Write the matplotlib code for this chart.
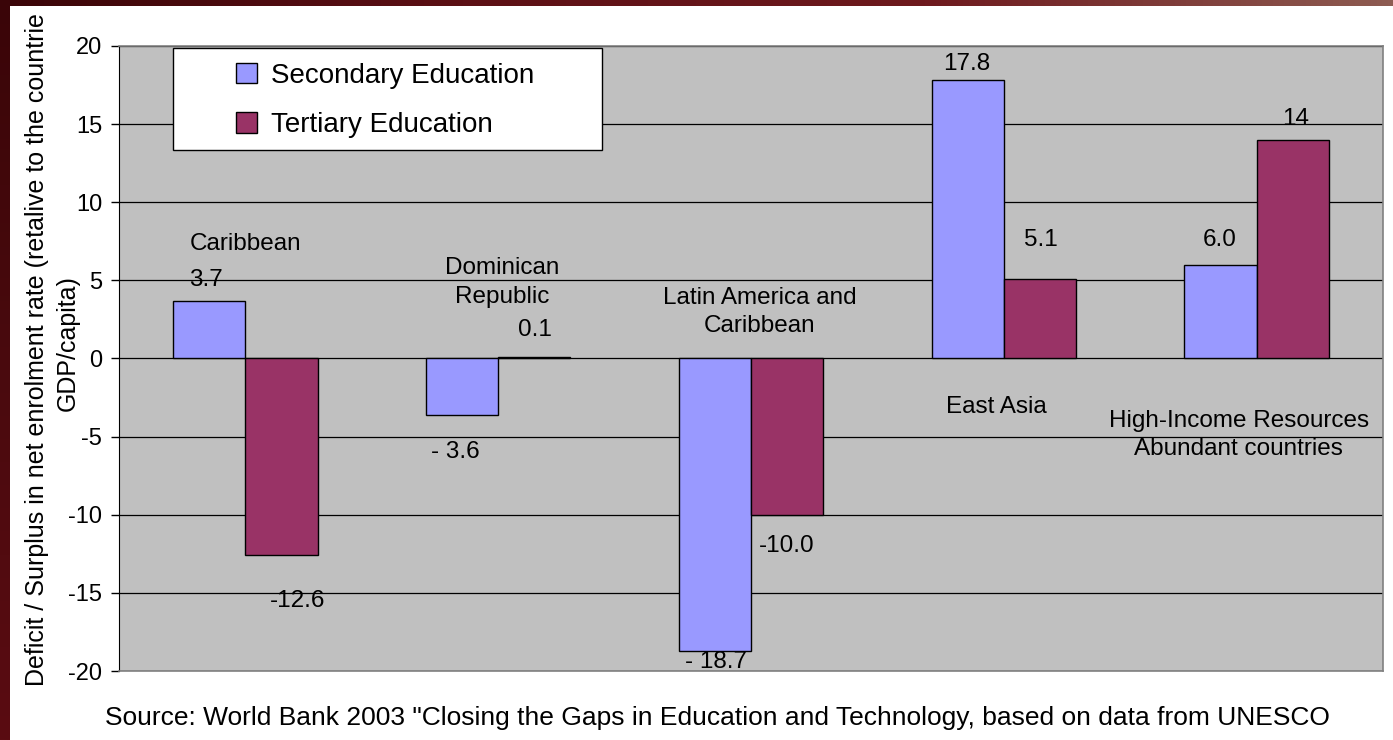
import matplotlib
matplotlib.use("Agg")
import matplotlib.pyplot as plt
import numpy as np
from matplotlib.patches import Rectangle
from matplotlib.colors import LinearSegmentedColormap

plt.rcParams['font.family'] = ['Liberation Sans', 'DejaVu Sans']

regions = ["Caribbean", "Dominican\nRepublic", "Latin America and\nCaribbean",
           "East Asia", "High-Income Resources\nAbundant countries"]
secondary = [3.7, -3.6, -18.7, 17.8, 6.0]
tertiary = [-12.6, 0.1, -10.0, 5.1, 14]
secondary_labels = ["3.7", "- 3.6", "- 18.7", "17.8", "6.0"]
tertiary_labels = ["-12.6", "0.1", "-10.0", "5.1", "14"]
yticks = [-20, -15, -10, -5, 0, 5, 10, 15, 20]

BLUE = "#9999ff"
MAROON = "#993366"

W, H = 1393, 740
fig = plt.figure(figsize=(W / 100, H / 100), dpi=100)
fig.patch.set_facecolor("white")

# slide frame: dark strip on the left, gradient strip along the top
grad = np.linspace(0, 1, 256).reshape(1, -1)
top_cmap = LinearSegmentedColormap.from_list("top", ["#3a0508", "#5c1015", "#6e1a1e", "#8e5c52"])
ax_top = fig.add_axes([0, 1 - 6 / H, 1, 6 / H])
ax_top.imshow(grad, aspect="auto", cmap=top_cmap)
ax_top.axis("off")
ax_left = fig.add_axes([0, 0, 10 / W, 1])
left_cmap = LinearSegmentedColormap.from_list("left", ["#5a0c12", "#4a0a0e", "#3a0508"])
ax_left.imshow(grad.T[::-1], aspect="auto", cmap=left_cmap)
ax_left.axis("off")

ax = fig.add_axes([119 / W, 69 / H, 1264 / W, 625 / H])
ax.set_facecolor("#c0c0c0")

x = np.arange(len(regions))
w = 0.2857
ax.bar(x - w / 2, secondary, w, color=BLUE, edgecolor="black", linewidth=1.0,
       label="Secondary Education", zorder=3)
ax.bar(x + w / 2, tertiary, w, color=MAROON, edgecolor="black", linewidth=1.0,
       label="Tertiary Education", zorder=3)

ax.set_xlim(-0.5, len(regions) - 0.5)
ax.set_ylim(-20, 20)
ax.set_yticks(yticks)
ax.set_yticklabels([str(t) for t in yticks], fontsize=17)
ax.set_xticks([])
ax.tick_params(axis="y", length=6, width=1, direction="out", pad=6)
ax.yaxis.grid(True, color="black", linewidth=0.9, zorder=1)
ax.set_axisbelow(True)
for side in ["top", "right", "bottom"]:
    ax.spines[side].set_color("#808080")
    ax.spines[side].set_linewidth(1.2)
ax.spines["left"].set_color("black")

fs = 17.5
# value labels
sec_pos = [(-0.155, 5.0), (-0.17, -6.0), (-0.14, -19.4), (-0.145, 18.85), (-0.145, 7.58)]
ter_pos = [(0.205, -15.5), (0.145, 1.82), (0.14, -12.0), (0.145, 7.58), (0.155, 15.35)]
for i in range(len(regions)):
    dx, yy = sec_pos[i]
    ax.text(x[i] + dx, yy, secondary_labels[i], ha="center", va="center", fontsize=fs, zorder=4)
    dx, yy = ter_pos[i]
    ax.text(x[i] + dx, yy, tertiary_labels[i], ha="center", va="center", fontsize=fs, zorder=4)

# region names
name_pos = [(0.0, 7.35), (0.015, 4.86), (0.035, 2.98), (-0.03, -3.1), (-0.07, -4.9)]
for i, name in enumerate(regions):
    dx, yy = name_pos[i]
    ax.text(x[i] + dx, yy, name, ha="center", va="center", fontsize=fs,
            linespacing=1.38, zorder=4)

# legend box with wide left margin
fig.patches.append(Rectangle((173 / W, 1 - 150 / H), 429 / W, 102 / H,
                             transform=fig.transFigure, facecolor="white",
                             edgecolor="black", linewidth=1.0, zorder=5))
leg = fig.legend(loc="upper left", bbox_to_anchor=(236 / W, 1 - 63 / H), fontsize=20,
                 frameon=False, handlelength=0.75, handleheight=0.75, handletextpad=0.5,
                 borderpad=0, labelspacing=0.83, borderaxespad=0)
leg.set_zorder(6)
for h in leg.legend_handles:
    h.set_linewidth(1.0)

# two-line y axis title
fig.text(37 / W, 1 - 350 / H,
         "Deficit / Surplus in net enrolment rate (retalive to the countrie",
         rotation=90, ha="center", va="center", fontsize=18)
fig.text(68 / W, 1 - 343 / H, "GDP/capita)",
         rotation=90, ha="center", va="center", fontsize=18)

fig.text(717 / W, 1 - 718 / H,
         "Source: World Bank 2003 \"Closing the Gaps in Education and Technology, based on data from UNESCO",
         ha="center", va="center", fontsize=19)

fig.savefig("out.png", dpi=100, facecolor="white")
